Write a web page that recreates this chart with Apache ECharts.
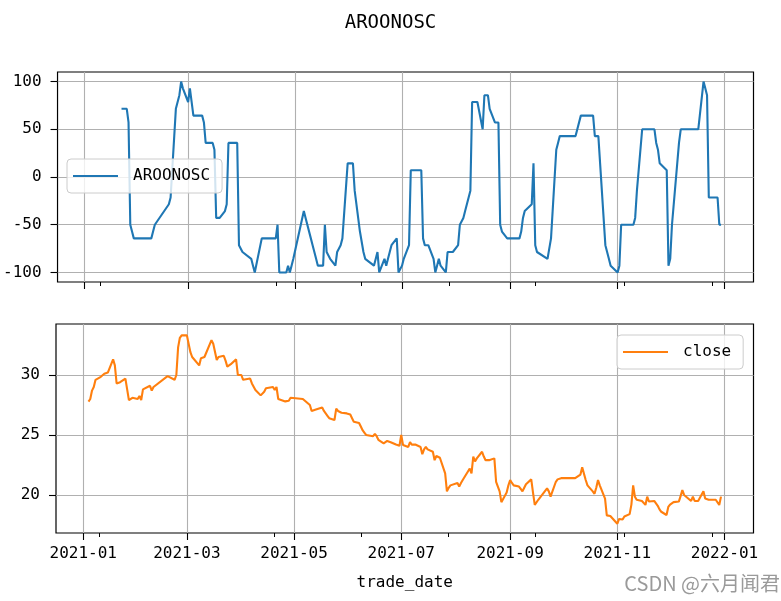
<!DOCTYPE html>
<html><head><meta charset="utf-8">
<script src="https://cdn.jsdelivr.net/npm/echarts@6/dist/echarts.min.js"></script>
<style>html,body{margin:0;padding:0;background:#fff}#c{width:781px;height:601px}</style>
</head><body><div id="c"></div>
<script>
const aroonDates = [
'2021-01-22','2021-01-25','2021-01-26','2021-01-27','2021-01-28','2021-01-29',
'2021-02-08','2021-02-09','2021-02-10','2021-02-18','2021-02-19','2021-02-22','2021-02-23','2021-02-24','2021-02-25','2021-02-26',
'2021-03-01','2021-03-02','2021-03-03','2021-03-04','2021-03-09','2021-03-10','2021-03-11','2021-03-15','2021-03-16','2021-03-17','2021-03-19','2021-03-22','2021-03-23','2021-03-24','2021-03-29','2021-03-30',
'2021-04-01','2021-04-02','2021-04-06','2021-04-07','2021-04-08','2021-04-09','2021-04-12','2021-04-20','2021-04-21','2021-04-22','2021-04-26','2021-04-27','2021-04-28','2021-04-29','2021-04-30',
'2021-05-06','2021-05-07','2021-05-10','2021-05-11','2021-05-12','2021-05-13','2021-05-14','2021-05-17','2021-05-18','2021-05-19','2021-05-20','2021-05-21','2021-05-24','2021-05-25','2021-05-26','2021-05-27','2021-05-28','2021-05-31',
'2021-06-03','2021-06-04','2021-06-07','2021-06-08','2021-06-09','2021-06-10','2021-06-11','2021-06-15','2021-06-16','2021-06-17','2021-06-18','2021-06-21','2021-06-22','2021-06-23','2021-06-24','2021-06-25','2021-06-28','2021-06-29','2021-06-30',
'2021-07-01','2021-07-02','2021-07-05','2021-07-06','2021-07-12','2021-07-13','2021-07-14','2021-07-16','2021-07-19','2021-07-20','2021-07-21','2021-07-22','2021-07-23','2021-07-26','2021-07-27','2021-07-30',
'2021-08-02','2021-08-03','2021-08-04','2021-08-05','2021-08-06','2021-08-09','2021-08-10','2021-08-13','2021-08-16','2021-08-17','2021-08-19','2021-08-20','2021-08-23','2021-08-25','2021-08-26','2021-08-27','2021-08-30',
'2021-09-06','2021-09-07','2021-09-08','2021-09-09','2021-09-10','2021-09-13','2021-09-14','2021-09-15','2021-09-16','2021-09-17','2021-09-22','2021-09-23','2021-09-24','2021-09-27','2021-09-28','2021-09-29',
'2021-10-08','2021-10-11','2021-10-18','2021-10-19','2021-10-21','2021-10-22','2021-10-25','2021-10-26','2021-10-27','2021-10-28','2021-10-29',
'2021-11-01','2021-11-02','2021-11-03','2021-11-10','2021-11-11','2021-11-12','2021-11-15','2021-11-22','2021-11-23','2021-11-24','2021-11-25','2021-11-26','2021-11-29','2021-11-30',
'2021-12-01','2021-12-02','2021-12-03','2021-12-06','2021-12-07','2021-12-17','2021-12-20','2021-12-21','2021-12-22','2021-12-23','2021-12-28','2021-12-29','2021-12-30'
];
const aroonValues = [
71.43,71.43,57.14,-50,-57.14,-64.29,
-64.29,-57.14,-50,-28.57,-21.43,71.43,71.43,85.71,100,92.86,
78.57,92.86,92.86,64.29,64.29,57.14,35.71,35.71,28.57,-42.86,-42.86,-35.71,-28.57,35.71,35.71,-71.43,
-78.57,-78.57,-85.71,-92.86,-100,-100,-64.29,-64.29,-50,-100,-100,-92.86,-100,-92.86,-85.71,
-35.71,-42.86,-64.29,-71.43,-78.57,-85.71,-92.86,-92.86,-50,-78.57,-78.57,-85.71,-92.86,-78.57,-78.57,-71.43,-64.29,14.29,
14.29,-14.29,-57.14,-57.14,-78.57,-85.71,-85.71,-92.86,-92.86,-78.57,-100,-85.71,-92.86,-85.71,-78.57,-71.43,-64.29,-100,-100,
-92.86,-85.71,-71.43,7.14,7.14,-64.29,-71.43,-71.43,-85.71,-100,-92.86,-85.71,-92.86,-100,-78.57,-78.57,
-71.43,-50,-50,-42.86,-35.71,-14.29,78.57,78.57,50,85.71,85.71,71.43,57.14,57.14,-50,-57.14,-64.29,
-64.29,-57.14,-42.86,-35.71,-35.71,-28.57,14.29,-71.43,-78.57,-78.57,-85.71,-85.71,-64.29,28.57,35.71,42.86,
42.86,64.29,64.29,42.86,42.86,14.29,-71.43,-78.57,-85.71,-92.86,-92.86,
-100,-92.86,-50,-50,-42.86,-14.29,50,50,35.71,28.57,14.29,14.29,7.14,-92.86,
-85.71,-50,-50,35.71,50,50,100,92.86,85.71,-21.43,-21.43,-50,-50
];
const closeDates = [
'2021-01-04','2021-01-05','2021-01-06','2021-01-07','2021-01-08','2021-01-11','2021-01-12','2021-01-13','2021-01-14','2021-01-15','2021-01-18','2021-01-19','2021-01-20','2021-01-21','2021-01-22','2021-01-25','2021-01-26','2021-01-27','2021-01-28','2021-01-29',
'2021-02-01','2021-02-02','2021-02-03','2021-02-04','2021-02-05','2021-02-08','2021-02-09','2021-02-10','2021-02-18','2021-02-19','2021-02-22','2021-02-23','2021-02-24','2021-02-25','2021-02-26',
'2021-03-01','2021-03-02','2021-03-03','2021-03-04','2021-03-05','2021-03-08','2021-03-09','2021-03-10','2021-03-11','2021-03-12','2021-03-15','2021-03-16','2021-03-17','2021-03-18','2021-03-19','2021-03-22','2021-03-23','2021-03-24','2021-03-25','2021-03-26','2021-03-29','2021-03-30','2021-03-31',
'2021-04-01','2021-04-02','2021-04-06','2021-04-07','2021-04-08','2021-04-09','2021-04-12','2021-04-13','2021-04-14','2021-04-15','2021-04-16','2021-04-19','2021-04-20','2021-04-21','2021-04-22','2021-04-23','2021-04-26','2021-04-27','2021-04-28','2021-04-29','2021-04-30',
'2021-05-06','2021-05-07','2021-05-10','2021-05-11','2021-05-12','2021-05-13','2021-05-14','2021-05-17','2021-05-18','2021-05-19','2021-05-20','2021-05-21','2021-05-24','2021-05-25','2021-05-26','2021-05-27','2021-05-28','2021-05-31',
'2021-06-01','2021-06-02','2021-06-03','2021-06-04','2021-06-07','2021-06-08','2021-06-09','2021-06-10','2021-06-11','2021-06-15','2021-06-16','2021-06-17','2021-06-18','2021-06-21','2021-06-22','2021-06-23','2021-06-24','2021-06-25','2021-06-28','2021-06-29','2021-06-30',
'2021-07-01','2021-07-02','2021-07-05','2021-07-06','2021-07-07','2021-07-08','2021-07-09','2021-07-12','2021-07-13','2021-07-14','2021-07-15','2021-07-16','2021-07-19','2021-07-20','2021-07-21','2021-07-22','2021-07-23','2021-07-26','2021-07-27','2021-07-28','2021-07-29','2021-07-30',
'2021-08-02','2021-08-03','2021-08-04','2021-08-05','2021-08-06','2021-08-09','2021-08-10','2021-08-11','2021-08-12','2021-08-13','2021-08-16','2021-08-17','2021-08-18','2021-08-19','2021-08-20','2021-08-23','2021-08-24','2021-08-25','2021-08-26','2021-08-27','2021-08-30','2021-08-31',
'2021-09-01','2021-09-02','2021-09-03','2021-09-06','2021-09-07','2021-09-08','2021-09-09','2021-09-10','2021-09-13','2021-09-14','2021-09-15','2021-09-16','2021-09-17','2021-09-22','2021-09-23','2021-09-24','2021-09-27','2021-09-28','2021-09-29','2021-09-30',
'2021-10-08','2021-10-11','2021-10-12','2021-10-13','2021-10-14','2021-10-15','2021-10-18','2021-10-19','2021-10-20','2021-10-21','2021-10-22','2021-10-25','2021-10-26','2021-10-27','2021-10-28','2021-10-29',
'2021-11-01','2021-11-02','2021-11-03','2021-11-04','2021-11-05','2021-11-08','2021-11-09','2021-11-10','2021-11-11','2021-11-12','2021-11-15','2021-11-16','2021-11-17','2021-11-18','2021-11-19','2021-11-22','2021-11-23','2021-11-24','2021-11-25','2021-11-26','2021-11-29','2021-11-30',
'2021-12-01','2021-12-02','2021-12-03','2021-12-06','2021-12-07','2021-12-08','2021-12-09','2021-12-10','2021-12-13','2021-12-14','2021-12-15','2021-12-16','2021-12-17','2021-12-20','2021-12-21','2021-12-22','2021-12-23','2021-12-24','2021-12-27','2021-12-28','2021-12-29','2021-12-30'
];
const closeValues = [
27.78,28.0,28.7,29.0,29.6,29.85,29.9,30.1,30.2,30.2,31.3,30.8,29.3,29.35,29.4,29.7,28.8,27.9,28.0,28.1,
28.0,28.25,27.9,28.8,28.9,29.1,28.7,29.0,29.9,30.0,29.6,30.0,32.3,33.1,33.3,
33.3,33.45,31.9,31.5,31.4,30.8,31.4,31.5,31.5,31.5,32.9,32.6,32.6,31.25,31.5,31.6,31.2,30.7,30.8,30.9,31.3,30.0,30.0,
30.0,29.6,29.7,29.3,29.4,28.75,28.3,28.3,28.6,28.9,28.9,29.0,28.75,29.0,28.0,27.9,27.8,27.95,27.85,28.1,28.1,
28.0,27.9,27.5,27.0,27.05,27.1,27.2,27.3,27.0,26.8,26.6,26.4,26.25,27.2,27.0,26.9,26.85,26.8,
26.8,26.7,26.4,26.1,26.0,25.7,25.4,25.2,25.0,24.9,25.1,24.9,24.6,24.3,24.4,24.5,24.45,24.4,24.2,24.1,24.1,
25.0,24.17,24.0,24.4,24.2,24.2,24.2,24.0,23.4,23.8,24.0,23.8,23.6,22.9,23.25,23.2,23.1,21.8,20.3,20.6,20.8,20.9,
21.0,20.7,21.0,21.25,21.3,22.2,21.8,23.2,22.8,23.05,23.6,23.2,22.9,22.8,22.9,23.05,21.1,20.7,20.3,19.4,20.2,20.8,
21.25,21.0,20.8,20.7,20.5,20.3,20.6,20.9,21.3,20.2,19.17,19.3,19.6,20.55,20.3,19.86,21.1,21.3,21.35,21.4,
21.4,21.7,22.3,22.3,21.25,20.8,20.3,20.1,20.6,21.25,20.8,19.7,18.3,18.3,18.25,18.3,
17.6,18.0,17.9,17.95,18.2,18.4,19.2,20.8,19.86,19.6,19.5,19.45,19.17,19.86,19.45,19.5,19.4,19.1,18.8,18.6,18.33,19.0,
19.2,19.3,19.4,19.45,19.9,20.4,20.0,19.86,19.5,19.86,19.5,19.55,19.5,20.3,19.7,19.65,19.6,19.6,19.6,19.55,19.17,19.86
];
const xMajorTicks = ['2021-01-01','2021-03-01','2021-05-01','2021-07-01','2021-09-01','2021-11-01','2022-01-01'];
const xMinorTicks = ['2021-01-10','2021-04-20','2021-06-08','2021-07-28','2021-09-15','2021-11-05','2021-12-25'];
const aroonTicks = [-100, -50, 0, 50, 100];
const closeTicks = [20, 25, 30];

const ts = s => { const p = s.split('-').map(Number); return new Date(p[0], p[1]-1, p[2]).getTime(); };
const xMin = new Date(2020, 11, 16, 12).getTime();
const xMax = new Date(2022, 0, 17, 12).getTime();
const MONO = '"DejaVu Sans Mono", monospace';
const GRIDC = '#b0b0b0';
const majorTs = xMajorTicks.map(ts);
const minorTs = xMinorTicks.map(ts);
const fmtDate = v => { const d = new Date(v); return d.getFullYear() + '-' + String(d.getMonth()+1).padStart(2,'0'); };

function xAxisMain(gi, showLabel) {
  return {
    type: 'value', gridIndex: gi, min: xMin, max: xMax, scale: true, position: 'bottom',
    axisLine: { show: false, onZero: false },
    axisTick: { show: true, customValues: majorTs, length: 7, lineStyle: { color: '#000', width: 1.1 } },
    axisLabel: showLabel ? { show: true, customValues: majorTs, formatter: fmtDate, fontFamily: MONO, fontSize: 16, color: '#000', margin: 13, showMinLabel: true, showMaxLabel: true } : { show: false },
    splitLine: { show: true, lineStyle: { color: GRIDC, width: 1.1 } },
    name: showLabel ? 'trade_date' : '',
    nameLocation: 'middle', nameGap: 42,
    nameTextStyle: { fontFamily: MONO, fontSize: 16, color: '#000' }
  };
}
function xAxisMinor(gi) {
  return {
    type: 'value', gridIndex: gi, min: xMin, max: xMax, scale: true, position: 'bottom',
    axisLine: { show: false, onZero: false },
    axisTick: { show: true, customValues: minorTs, length: 4, lineStyle: { color: '#000', width: 1 } },
    axisLabel: { show: false }, splitLine: { show: false }
  };
}
function yAxis(gi, min, max, ticks) {
  return {
    type: 'value', gridIndex: gi, min: min, max: max, scale: true,
    axisLine: { show: false, onZero: false },
    axisTick: { show: true, customValues: ticks, length: 7, lineStyle: { color: '#000', width: 1.1 } },
    axisLabel: { customValues: ticks, fontFamily: MONO, fontSize: 16, color: '#000', margin: 16 },
    splitLine: { show: true, lineStyle: { color: GRIDC, width: 1.1 } }
  };
}
const legendBase = {
  orient: 'vertical', itemWidth: 45, itemHeight: 2, icon: 'rect', selectedMode: false,
  padding: [8, 12, 8, 6], backgroundColor: 'rgba(255,255,255,0.8)',
  borderColor: '#cccccc', borderWidth: 1, borderRadius: 4,
  textStyle: { fontFamily: MONO, fontSize: 16, color: '#000', lineHeight: 18, padding: [0, 0, 0, 10] }
};

const chart = echarts.init(document.getElementById('c'), null, { renderer: 'canvas' });
chart.setOption({
  animation: false,
  backgroundColor: '#fff',
  title: { text: 'AROONOSC', left: 'center', top: 9, textStyle: { fontFamily: MONO, fontSize: 19, fontWeight: 'normal', color: '#000' } },
  grid: [
    { left: 56, right: 27.5, top: 72, height: 210, show: true, borderColor: '#000', borderWidth: 1.2, backgroundColor: 'transparent' },
    { left: 56, right: 27.5, top: 324, height: 209, show: true, borderColor: '#000', borderWidth: 1.2, backgroundColor: 'transparent' }
  ],
  xAxis: [xAxisMain(0, false), xAxisMain(1, true), xAxisMinor(0), xAxisMinor(1)],
  yAxis: [yAxis(0, -110, 110, aroonTicks), yAxis(1, 16.83, 34.25, closeTicks)],
  legend: [
    Object.assign({}, legendBase, { data: ['AROONOSC'], left: 67, top: 159 }),
    Object.assign({}, legendBase, { data: ['close'], left: 617, top: 335 })
  ],
  series: [
    { name: 'AROONOSC', type: 'line', xAxisIndex: 0, yAxisIndex: 0, symbol: 'none', showSymbol: false,
      color: '#1f77b4', lineStyle: { color: '#1f77b4', width: 2.1 },
      data: aroonDates.map((d, i) => [ts(d), aroonValues[i]]) },
    { name: 'close', type: 'line', xAxisIndex: 1, yAxisIndex: 1, symbol: 'none', showSymbol: false,
      color: '#ff7f0e', lineStyle: { color: '#ff7f0e', width: 2.1 },
      data: closeDates.map((d, i) => [ts(d), closeValues[i]]) }
  ],
  graphic: [
    { type: 'text', right: 1, top: 573, style: { text: 'CSDN @六月闻君', font: '20px "Noto Sans CJK SC"', fill: '#9a9a9a' } }
  ]
});
</script>
</body></html>
